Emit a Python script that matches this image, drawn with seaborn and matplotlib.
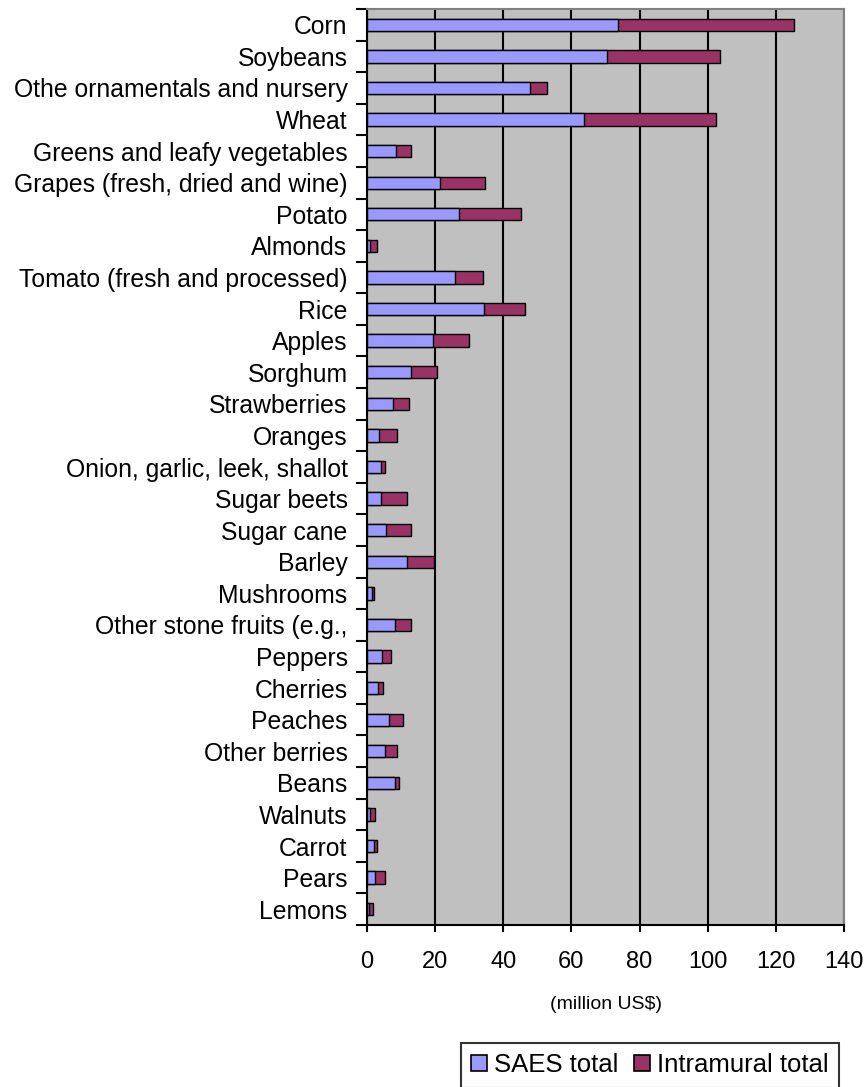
import numpy as np
import pandas as pd
import matplotlib
matplotlib.use("Agg")
import matplotlib.pyplot as plt
from matplotlib.patches import Patch
import seaborn as sns

crops = [
    "Corn", "Soybeans", "Othe ornamentals and nursery", "Wheat",
    "Greens and leafy vegetables", "Grapes (fresh, dried and wine)", "Potato",
    "Almonds", "Tomato (fresh and processed)", "Rice", "Apples", "Sorghum",
    "Strawberries", "Oranges", "Onion, garlic, leek, shallot", "Sugar beets",
    "Sugar cane", "Barley", "Mushrooms", "Other stone fruits (e.g.,",
    "Peppers", "Cherries", "Peaches", "Other berries", "Beans", "Walnuts",
    "Carrot", "Pears", "Lemons",
]
saes_total = [
    73.7, 70.3, 47.9, 63.8, 8.6, 21.5, 26.9, 0.8, 25.7, 34.2, 19.4, 12.9,
    7.6, 3.4, 4.0, 4.0, 5.7, 11.8, 1.5, 8.2, 4.5, 3.3, 6.5, 5.2, 8.2, 1.0,
    2.1, 2.3, 0.5,
]
intramural_total = [
    51.7, 33.4, 4.8, 38.7, 4.2, 13.0, 18.2, 2.0, 8.2, 12.3, 10.6, 7.6,
    4.7, 5.3, 1.2, 7.7, 7.2, 7.9, 0.7, 4.7, 2.4, 1.3, 4.0, 3.5, 1.2, 1.3,
    0.7, 2.9, 1.2,
]
x_ticks = [0, 20, 40, 60, 80, 100, 120, 140]
x_label = "(million US$)"
series_names = ["SAES total", "Intramural total"]

saes_color = "#9999FF"
intra_color = "#993366"

df = pd.DataFrame({
    "crop": crops,
    "saes": saes_total,
    "intra": intramural_total,
})
df["total"] = df["saes"] + df["intra"]

sns.set_style("white")
plt.rcParams["font.family"] = ["Liberation Sans", "DejaVu Sans"]
plt.rcParams["text.color"] = "black"
plt.rcParams["axes.labelcolor"] = "black"
plt.rcParams["xtick.color"] = "black"
plt.rcParams["ytick.color"] = "black"

fig = plt.figure(figsize=(8.64, 10.87), dpi=100)
ax = fig.add_axes([367 / 864, 1 - 925 / 1087, (844 - 367) / 864, (925 - 9) / 1087])
ax.set_facecolor("#C0C0C0")

bar_kw = dict(orient="h", width=0.39, saturation=1, edgecolor="black",
              linewidth=1.0, order=crops, ax=ax)
# stacked bars: full total in the intramural colour, SAES part drawn over it
sns.barplot(data=df, x="total", y="crop", color=intra_color, **bar_kw)
sns.barplot(data=df, x="saes", y="crop", color=saes_color, **bar_kw)

ax.set_xlim(0, 140)
ax.set_ylim(len(crops) - 0.5, -0.5)
ax.set_xticks(x_ticks)
ax.set_xticklabels([str(t) for t in x_ticks])
ax.set_xlabel(x_label, fontsize=14, labelpad=16)
ax.set_ylabel("")

ax.set_axisbelow(True)
ax.grid(axis="x", color="black", linewidth=1.5)
ax.grid(axis="y", visible=False)

ax.set_yticks(np.arange(len(crops)))
ax.set_yticklabels(crops, fontsize=17.8)
ax.set_yticks(np.arange(len(crops) + 1) - 0.5, minor=True)
ax.tick_params(axis="y", which="major", length=0, pad=14)
ax.tick_params(axis="y", which="minor", length=8, width=1.5, color="black",
               direction="out", left=True)
ax.tick_params(axis="x", which="major", length=5, width=1.5, color="black",
               direction="out", bottom=True, labelsize=17, pad=14)

for side in ("left", "bottom"):
    ax.spines[side].set_color("black")
    ax.spines[side].set_linewidth(1.5)
for side in ("top", "right"):
    ax.spines[side].set_color("#808080")
    ax.spines[side].set_linewidth(1.5)

handles = [Patch(facecolor=saes_color, edgecolor="black", linewidth=1.2),
           Patch(facecolor=intra_color, edgecolor="black", linewidth=1.2)]
leg = fig.legend(handles, series_names, loc="upper left",
                 bbox_to_anchor=(461 / 864, 1 - 1043 / 1087),
                 ncol=2, fontsize=18.5, frameon=True, fancybox=False,
                 handlelength=0.6, handleheight=0.6, handletextpad=0.3,
                 columnspacing=0.6, borderpad=0.4, borderaxespad=0)
leg.get_frame().set_edgecolor("black")
leg.get_frame().set_linewidth(1.5)

fig.savefig("out.png", dpi=100)
